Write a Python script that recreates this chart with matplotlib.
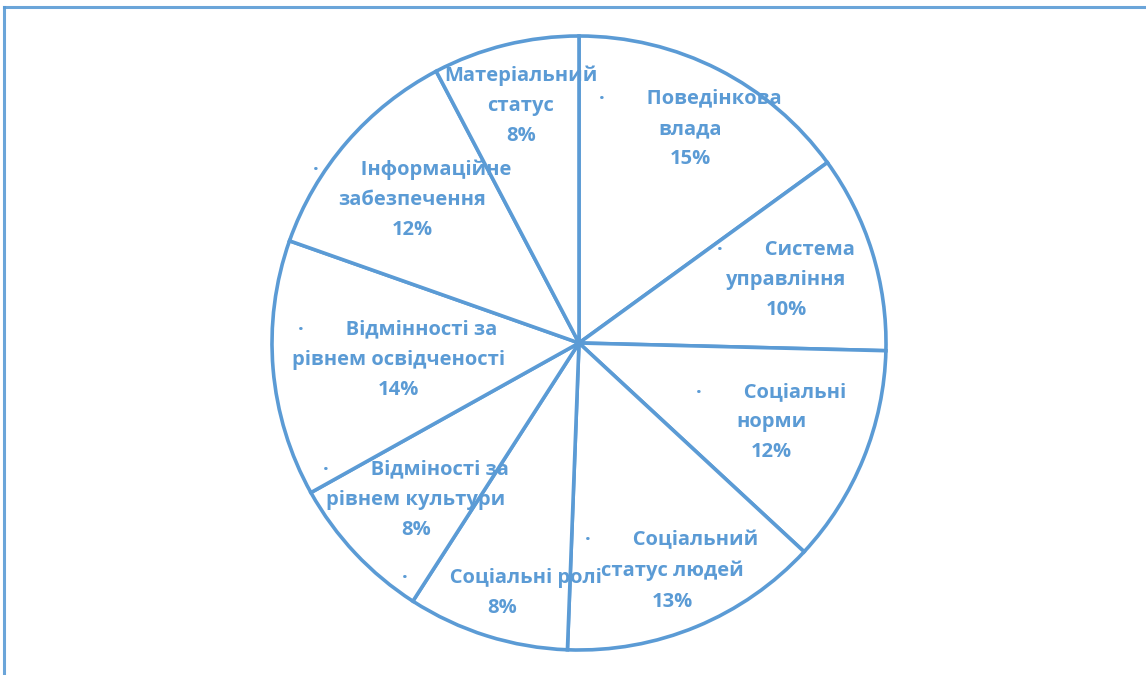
import matplotlib
matplotlib.use("Agg")
import matplotlib.pyplot as plt
from matplotlib.lines import Line2D

# Data (clockwise from 12 o'clock)
categories = [
    "Поведінкова\nвлада",
    "Система\nуправління",
    "Соціальні\nнорми",
    "Соціальний\nстатус людей",
    "Соціальні ролі",
    "Відміності за\nрівнем культури",
    "Відмінності за\nрівнем освідченості",
    "Інформаційне\nзабезпечення",
    "Матеріальний\nстатус",
]
shares = [15.0, 10.4, 11.5, 13.7, 8.5, 7.8, 13.5, 11.9, 7.7]
pct_labels = ["15%", "10%", "12%", "13%", "8%", "8%", "14%", "12%", "8%"]
has_bullet = [True, True, True, True, True, True, True, True, False]

BLUE = "#5B9BD5"
W, H = 1146, 675

fig = plt.figure(figsize=(W / 100, H / 100), dpi=100)
ax = fig.add_axes([0, 0, 1, 1])
ax.set_xlim(0, W)
ax.set_ylim(0, H)
ax.axis("off")

cx, cy, r = 579, H - 343, 307
ax.pie(shares, startangle=90, counterclock=False, center=(cx, cy), radius=r,
       colors=["white"] * len(shares),
       wedgeprops=dict(edgecolor=BLUE, linewidth=2.6))
ax.set_xlim(0, W)
ax.set_ylim(0, H)
ax.set_aspect("auto")

# label block centres (pixel coords from top)
label_pos = [(690, 129), (786, 280), (771, 422), (672, 571), (502, 593),
             (416, 500), (398, 360), (412, 200), (521, 106)]
for cat, pct, b, (lx, ly) in zip(categories, pct_labels, has_bullet, label_pos):
    lines = cat.split("\n")
    if b:
        lines[0] = "·        " + lines[0]
    txt = "\n".join(lines + [pct])
    ax.text(lx, H - ly, txt, ha="center", va="center", multialignment="center",
            color=BLUE, fontsize=14.5, fontweight="bold", family="Open Sans",
            linespacing=1.68)

# frame (left and top edges)
fig.add_artist(Line2D([4 / W, 4 / W], [0, 1 - 7 / H], transform=fig.transFigure,
                      color=BLUE, linewidth=2.2, alpha=0.9))
fig.add_artist(Line2D([4 / W, 1], [1 - 7 / H, 1 - 7 / H], transform=fig.transFigure,
                      color=BLUE, linewidth=2.2, alpha=0.9))

fig.savefig("out.png", dpi=100)
